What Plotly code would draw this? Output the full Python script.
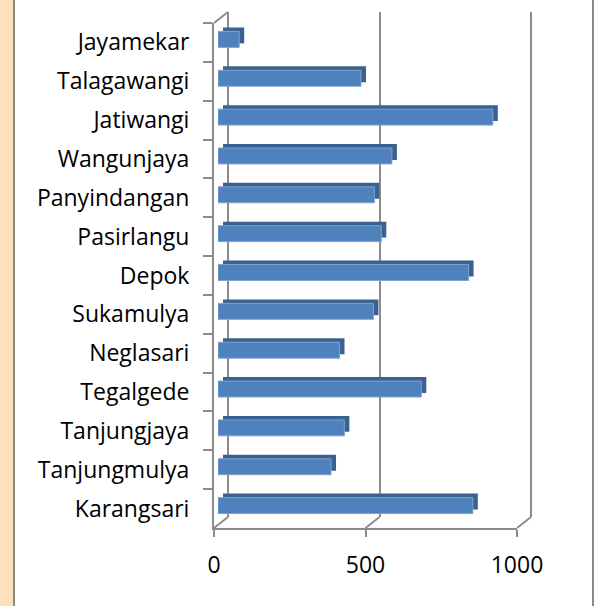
import plotly.graph_objects as go

# villages, top to bottom as in the chart
villages = ["Jayamekar", "Talagawangi", "Jatiwangi", "Wangunjaya", "Panyindangan",
            "Pasirlangu", "Depok", "Sukamulya", "Neglasari", "Tegalgede",
            "Tanjungjaya", "Tanjungmulya", "Karangsari"]
values = [70, 472, 907, 574, 516, 539, 827, 513, 401, 671, 417, 373, 841]
x_ticks = [0, 500, 1000]
x_tick_labels = ["0", "500", "1000"]

W, H = 595, 606
grid_color = "#8c8c8c"
bar_color = "#4f81bd"
bar_dark = "#3b6190"
font_family = "'Open Sans', Lato, sans-serif"


def xdom(left, right):
    return [left / W, right / W]


def ydom(top, bottom):
    return [1 - bottom / H, 1 - top / H]


# front plane of the 3d box, and the planes behind it (pixel offsets)
front_x, front_y = (214, 517), (23, 528)
back_off = (14, -11)
bar_off = (4, -3)
bar_back_off = (9, -7)


def shifted(off, pad=0):
    return (xdom(front_x[0] + off[0] - pad, front_x[1] + off[0] + pad),
            ydom(front_y[0] + off[1], front_y[1] + off[1]))


# back wall range padded a little so the end gridlines are not clipped
pad_units = 6
pad_px = pad_units * (front_x[1] - front_x[0]) / 1000
back_dom = shifted(back_off, pad_px)
barb_dom = shifted(bar_back_off)
barf_dom = shifted(bar_off)
front_dom = (xdom(*front_x), ydom(*front_y))

cat_range = [len(villages) - 0.5, -0.5]

fig = go.Figure()
# invisible trace so the back wall subplot gets drawn
fig.add_trace(go.Bar(x=values, y=villages, orientation="h", xaxis="x", yaxis="y",
                     opacity=0, hoverinfo="skip"))
# dark back copy of the bars gives the top and side faces
fig.add_trace(go.Bar(x=values, y=villages, orientation="h", xaxis="x2", yaxis="y2",
                     marker_color=bar_dark, marker_line_width=0, width=0.41,
                     hoverinfo="skip"))
fig.add_trace(go.Bar(x=values, y=villages, orientation="h", xaxis="x3", yaxis="y3",
                     marker_color=bar_color, marker_line_color="#7da2d0",
                     marker_line_width=1, width=0.41))
# invisible trace to carry the front axes
fig.add_trace(go.Bar(x=values, y=villages, orientation="h", xaxis="x4", yaxis="y4",
                     opacity=0, hoverinfo="skip"))

hidden = dict(showgrid=False, zeroline=False, showline=False, showticklabels=False,
              ticks="", automargin=False)

fig.update_layout(
    width=W, height=H, autosize=False,
    margin=dict(l=0, r=0, t=0, b=0, autoexpand=False),
    paper_bgcolor="white", plot_bgcolor="rgba(0,0,0,0)",
    showlegend=False,
    font=dict(family=font_family, size=23, color="#000000"),
    # back wall with the gridlines
    xaxis=dict(domain=back_dom[0], range=[-pad_units, 1000 + pad_units], tickvals=x_ticks,
               anchor="y", showgrid=True, gridcolor=grid_color, gridwidth=2,
               zeroline=False, showline=False, showticklabels=False, ticks="",
               automargin=False),
    yaxis=dict(domain=back_dom[1], type="category", categoryarray=villages,
               range=cat_range, anchor="x", **hidden),
    xaxis2=dict(domain=barb_dom[0], range=[0, 1000], anchor="y2", **hidden),
    yaxis2=dict(domain=barb_dom[1], type="category", categoryarray=villages,
                range=cat_range, anchor="x2", **hidden),
    xaxis3=dict(domain=barf_dom[0], range=[0, 1000], anchor="y3", **hidden),
    yaxis3=dict(domain=barf_dom[1], type="category", categoryarray=villages,
                range=cat_range, anchor="x3", **hidden),
    # front axes with ticks and labels
    xaxis4=dict(domain=front_dom[0], range=[0, 1000], anchor="y4",
                tickvals=x_ticks, ticktext=x_tick_labels, automargin=False,
                showgrid=False, zeroline=False, showline=True, linecolor=grid_color,
                linewidth=2, ticks="outside", ticklen=7, tickwidth=2,
                tickcolor=grid_color, ticklabelstandoff=8),
    yaxis4=dict(domain=front_dom[1], type="category", categoryarray=villages,
                range=cat_range, anchor="x4", tickson="boundaries", automargin=False,
                showgrid=False, zeroline=False, showline=True, linecolor=grid_color,
                linewidth=2, ticks="outside", ticklen=9, tickwidth=2,
                tickcolor=grid_color, ticklabelstandoff=18),
)

# floor edges joining the front ticks to the back wall
shapes = []
fx0, fx1 = front_dom[0]
bx0, bx1 = xdom(front_x[0] + back_off[0], front_x[1] + back_off[0])
f_bottom, f_top = front_dom[1]
b_bottom, b_top = back_dom[1]
for t in x_ticks:
    xa = fx0 + (fx1 - fx0) * t / 1000
    xb = bx0 + (bx1 - bx0) * t / 1000
    shapes.append(dict(type="line", xref="paper", yref="paper", x0=xa, y0=f_bottom,
                       x1=xb, y1=b_bottom, line=dict(color=grid_color, width=2)))
shapes.append(dict(type="line", xref="paper", yref="paper", x0=fx0, y0=f_top,
                   x1=bx0, y1=b_top, line=dict(color=grid_color, width=2)))
# frame: peach strip on the left, grey edges
shapes.append(dict(type="rect", xref="paper", yref="paper", x0=0, x1=13 / W, y0=0, y1=1,
                   fillcolor="#fde1bc", line_width=0, layer="below"))
shapes.append(dict(type="line", xref="paper", yref="paper", x0=14 / W, x1=14 / W, y0=0, y1=1,
                   line=dict(color="#8a8a8a", width=2)))
shapes.append(dict(type="line", xref="paper", yref="paper", x0=593 / W, x1=593 / W, y0=0, y1=1,
                   line=dict(color="#8a8a8a", width=2)))
fig.update_layout(shapes=shapes)

page_fix = (
    "document.body.style.margin='0';"
    "document.documentElement.style.overflow='hidden';"
    "document.body.style.overflow='hidden';"
)
fig.write_html("out.html",
               config={"displayModeBar": False, "responsive": False},
               post_script=page_fix)
